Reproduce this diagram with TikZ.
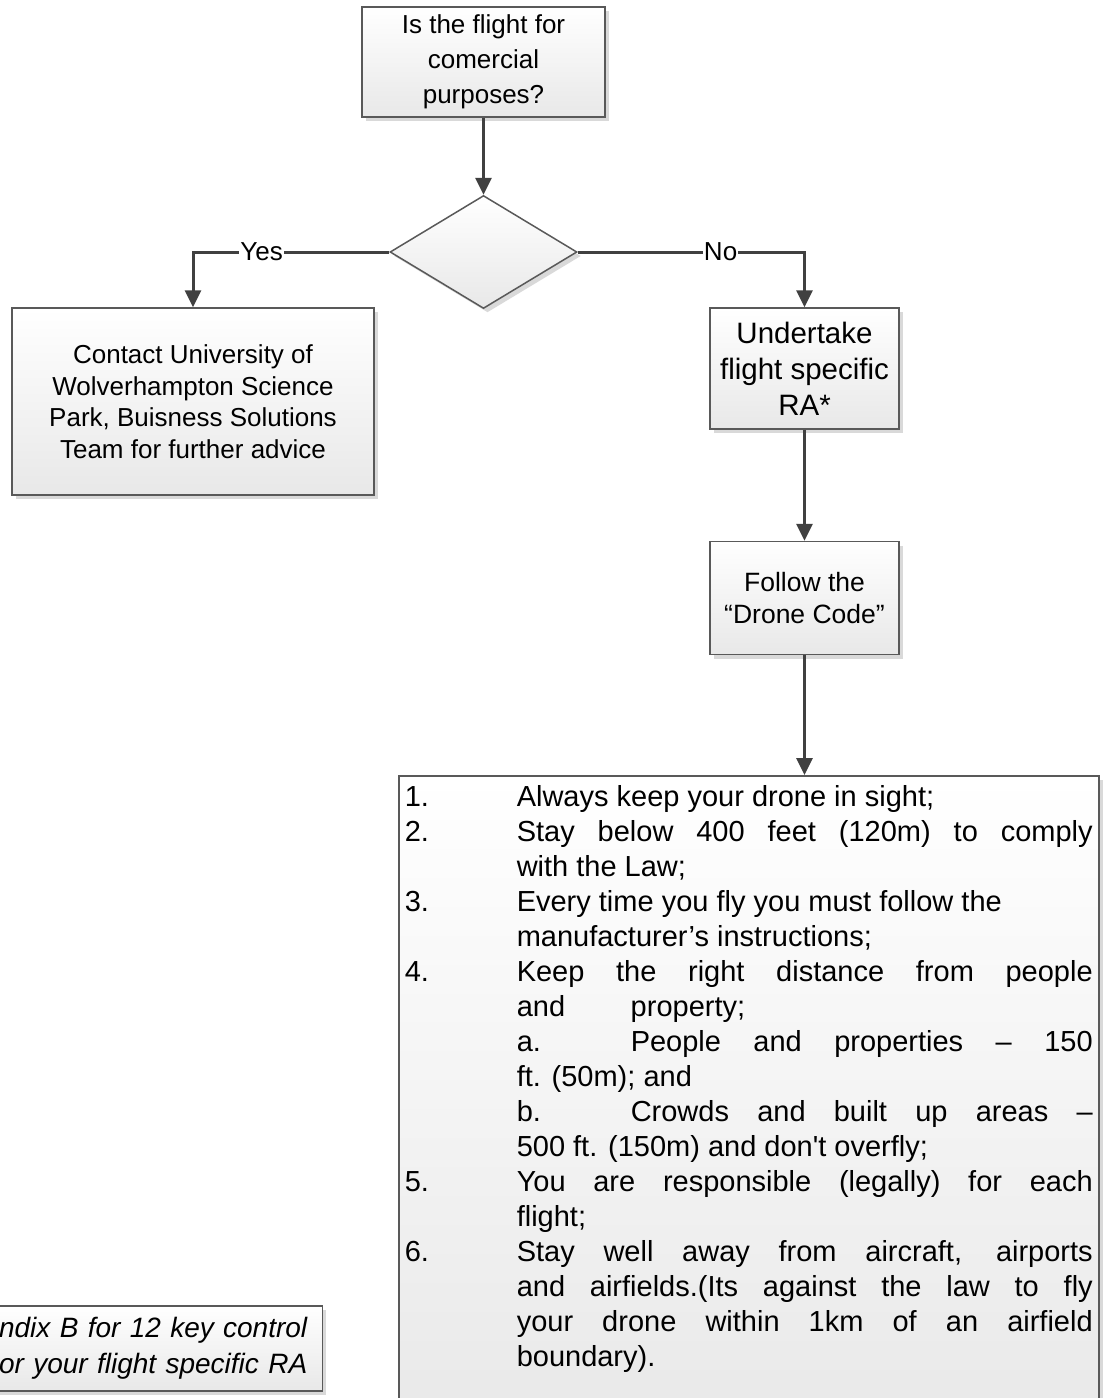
\documentclass[tikz,border=0pt]{standalone}
\usepackage{fontspec}
\setmainfont{Liberation Sans}
\usetikzlibrary{shapes.geometric, arrows.meta, positioning, shadows}

\newcommand{\ruleline}[2]{\makebox[112pt][l]{#1}#2}

\tikzset{
  box/.style={draw=black!65, line width=1.5pt, top color=white, bottom color=black!9,
    drop shadow={shadow xshift=4pt, shadow yshift=-4pt, fill=black!15, opacity=1},
    align=center, inner sep=0pt},
  decision/.style={box, diamond, minimum width=187pt, minimum height=113pt},
  flow/.style={line width=3pt, -{Triangle[length=17pt,width=16pt]}, every edge/.style={draw=black!75}},
  elbow/.style={to path={-| (\tikztotarget) \tikztonodes}},
  lbl/.style={fill=white, inner sep=1pt, font=\fontsize{26pt}{30pt}\selectfont},
}

\begin{document}
\begin{tikzpicture}[x=1pt, y=-1pt]
    \useasboundingbox (0,0) rectangle (1103,1398);
    \clip (0,0) rectangle (1103,1398);

    \node[box, minimum width=243pt, minimum height=110pt, font=\fontsize{26pt}{35pt}\selectfont] (q) at (483.5,62) {Is the flight for\\comercial\\purposes?};
    \node[decision] (d) [below=77pt of q] {};
    \node[box, minimum width=362pt, minimum height=187pt, font=\fontsize{26pt}{31.5pt}\selectfont] (contact) at (193,401.5) {Contact University of\\Wolverhampton Science\\Park, Buisness Solutions\\Team for further advice};
    \node[box, minimum width=189pt, minimum height=121pt, font=\fontsize{29.5pt}{36pt}\selectfont] (ra) at (804.5,368.5) {Undertake\\flight specific\\RA*};
    \node[box, minimum width=189pt, minimum height=113pt, font=\fontsize{26.5pt}{32pt}\selectfont] (code) [below=111pt of ra] {Follow the\\“Drone Code”};
    \node[box, anchor=north west, inner xsep=6pt, inner ysep=10pt] (rules) at (398,775) {\parbox[c][645pt][t]{688pt}{\fontsize{29pt}{35pt}\selectfont
      \ruleline{1.}{Always keep your drone in sight;}\\
      \ruleline{2.}{\makebox[576pt][s]{Stay below 400 feet (120m) to comply}}\\
      \ruleline{}{with the Law;}\\
      \ruleline{3.}{Every time you fly you must follow the}\\
      \ruleline{}{manufacturer’s instructions;}\\
      \ruleline{4.}{\makebox[576pt][s]{Keep the right distance from people}}\\
      \ruleline{}{\makebox[114pt][l]{and}property;}\\
      \ruleline{}{\makebox[114pt][l]{a.}\makebox[462pt][s]{People and properties – 150}}\\
      \ruleline{}{ft. (50m); and}\\
      \ruleline{}{\makebox[114pt][l]{b.}\makebox[462pt][s]{Crowds and built up areas –}}\\
      \ruleline{}{500 ft. (150m) and don\textquotesingle t overfly;}\\
      \ruleline{5.}{\makebox[576pt][s]{You are responsible (legally) for each}}\\
      \ruleline{}{flight;}\\
      \ruleline{6.}{\makebox[576pt][s]{Stay well away from aircraft, airports}}\\
      \ruleline{}{\makebox[576pt][s]{and airfields.(Its against the law to fly}}\\
      \ruleline{}{\makebox[576pt][s]{your drone within 1km of an airfield}}\\
      \ruleline{}{boundary).}}};
    \node[box, anchor=north east, text width=500pt, minimum height=85pt, inner xsep=15pt, align=right, font=\itshape\fontsize{28pt}{36pt}\selectfont] (note) at (323,1305) {ndix B for 12 key control\hspace*{5pt}\\or your flight specific RA};

    \path[flow]
    (q) edge (d)
    (d.west) edge[elbow] node[lbl, pos=0.325] {Yes} (contact.north)
    (d.east) edge[elbow] node[lbl, pos=0.315] {No} (ra.north)
    (ra) edge (code)
    (code) edge (code.south |- rules.north);

\end{tikzpicture}
\end{document}
